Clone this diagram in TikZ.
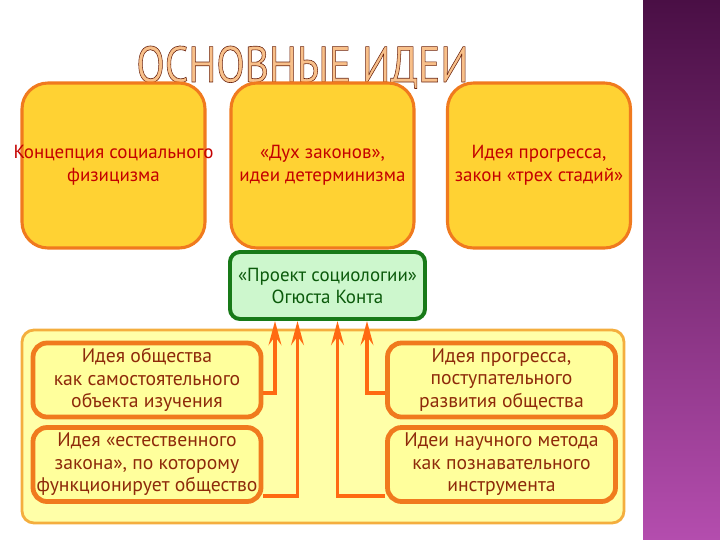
\documentclass[tikz,border=0pt]{standalone}
\usepackage{fontspec}
\setmainfont{PT Sans}
\usepackage{xcolor}
\usepackage{tikz}
\usetikzlibrary{positioning, arrows.meta, backgrounds, calc}
\definecolor{gold}{HTML}{FFD233}
\definecolor{rim}{HTML}{F07A1E}
\definecolor{redtext}{HTML}{C40000}
\definecolor{mint}{HTML}{CDF7CD}
\definecolor{pine}{HTML}{187A18}
\definecolor{pinetext}{HTML}{0B5A0B}
\definecolor{pale}{HTML}{FFFFA8}
\definecolor{panelrim}{HTML}{F4AE3E}
\definecolor{cream}{HTML}{FFFF9C}
\definecolor{brick}{HTML}{8E2A0A}
\definecolor{flame}{HTML}{FF6A12}
\definecolor{peach}{HTML}{F8C08A}
\definecolor{plumtop}{HTML}{4A0F45}
\definecolor{plumbot}{HTML}{B44DAE}
% outlined letters for the heading
\newcommand{\hollow}[1]{\special{pdf:literal direct 2 Tr 0.45 w 0.42 0.14 0.06 RG}#1\special{pdf:literal direct 0 Tr}}
\tikzset{
  heading/.style={text=peach, inner sep=0pt, anchor=base,
                  font=\fontsize{36}{36}\selectfont, xscale=0.82, transform shape},
  idea/.style={draw=rim, line width=2.2pt, rounded corners=6.5mm, fill=gold, align=center,
               minimum width=4.575cm, minimum height=4.125cm, text=redtext,
               font=\fontsize{13.5}{16.4}\selectfont},
  proj/.style={draw=pine, line width=2.8pt, rounded corners=2.5mm, fill=mint, align=center,
               minimum width=4.875cm, minimum height=1.675cm, text=pinetext,
               font=\fontsize{13.5}{15.6}\selectfont},
  panel/.style={draw=panelrim, line width=2pt, rounded corners=3mm, fill=pale,
                minimum width=15.05cm, minimum height=4.825cm},
  fact/.style={draw=rim, line width=3.4pt, rounded corners=3.5mm, fill=cream, align=center,
               minimum width=5.7cm, minimum height=1.85cm, text=brick, inner sep=1pt,
               font=\fontsize{14}{16}\selectfont},
  ar/.style={-{Stealth[length=17pt, width=9pt, inset=6pt]}, line width=2.8pt, flame},
}

\begin{document}
\begin{tikzpicture}
  \useasboundingbox (0,0) rectangle (18,-13.5);

  % --- side band ---
  \fill[top color=plumtop, bottom color=plumbot] (16.075,0) rectangle (18,-13.5);

  % --- heading ---
  \node[heading] (title) at (7.5625,-2.05) {\hollow{ОСНОВНЫЕ ИДЕИ}};

  % --- upper row ---
  \node[idea] (physics) at (2.8375,-4.1375) {\makebox[0pt]{Концепция социального}\\физицизма};
  \node[idea] (laws) at (8.0625,-4.1375) {«Дух законов»,\\идеи детерминизма};
  \node[idea] (stages) at (13.475,-4.1375) {Идея прогресса,\\закон «трех стадий»};

  % --- project ---
  \node[proj] (project) at (8.1875,-7.1375) {«Проект социологии»\\Огюста Конта};

  % --- lower panel ---
  \node[panel] (panel) at (8.075,-10.6625) {};
  \node[fact] (society) at (3.675,-9.5) {Идея общества\\как самостоятельного\\объекта изучения};
  \node[fact] (natlaw) at (3.675,-11.6125) {Идея «естественного\\закона», по которому\\функционирует общество};
  \node[fact] (progress) at (12.5375,-9.5) {Идея прогресса,\\поступательного\\развития общества};
  \node[fact] (method) at (12.5375,-11.6125) {Идеи научного метода\\как познавательного\\инструмента};

  % --- arrows ---
  \draw[ar] ([yshift=-0.325cm]society.east) -| ([xshift=-1.3125cm]project.south);
  \draw[ar] ([yshift=-0.7875cm]natlaw.east) -| ([xshift=-0.75cm]project.south);
  \draw[ar] ([yshift=-0.7875cm]method.west) -| ([xshift=0.25cm]project.south);
  \draw[ar] ([yshift=-0.325cm]progress.west) -| ([xshift=0.9875cm]project.south);

\end{tikzpicture}
\end{document}
